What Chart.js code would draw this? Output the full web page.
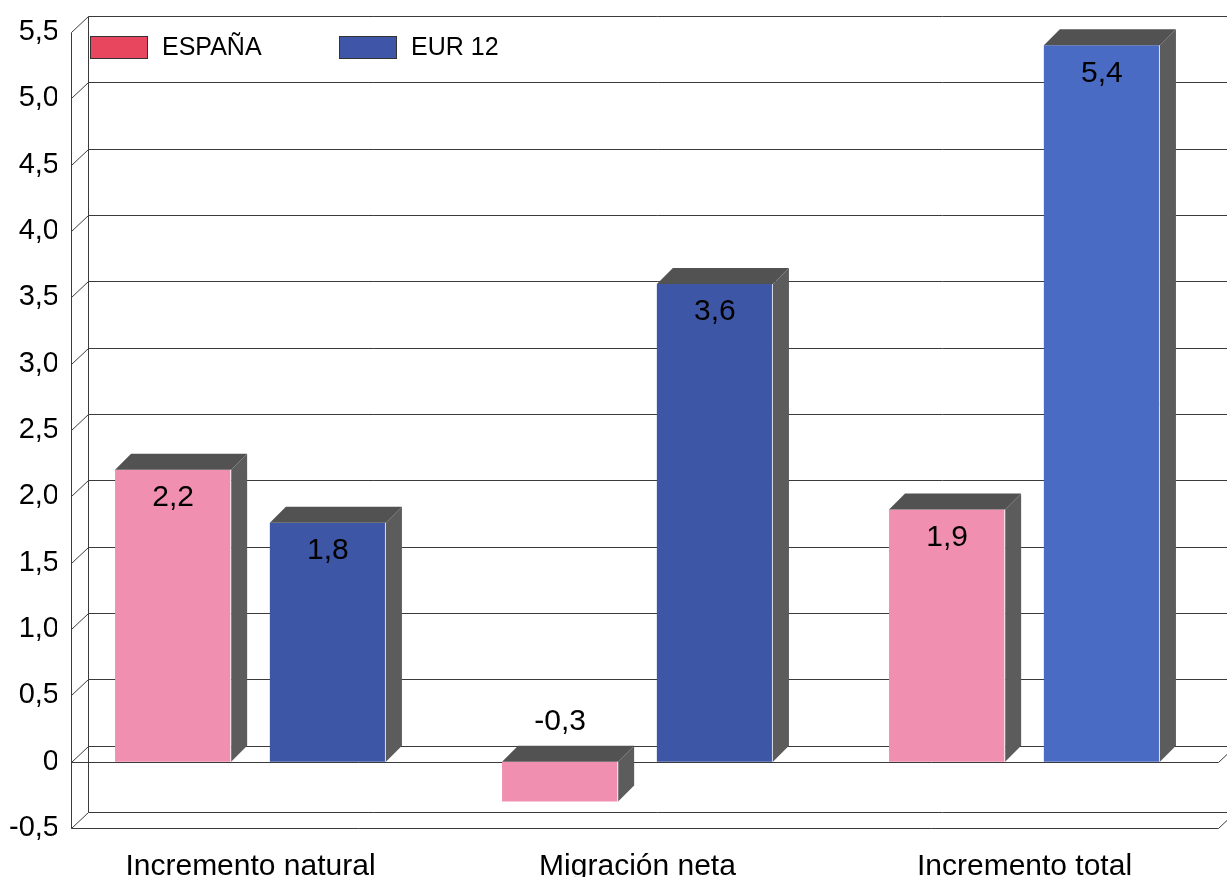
<!DOCTYPE html>
<html>
<head>
<meta charset="utf-8">
<script src="https://cdn.jsdelivr.net/npm/chart.js@4"></script>
<style>
  html, body { margin: 0; padding: 0; background: #fff; }
  #wrap { width: 1227px; height: 877px; }
</style>
</head>
<body>
<div id="wrap"><canvas id="poblacionChart" width="1227" height="877"></canvas></div>
<script>
var categories = ['Incremento natural', 'Migración neta', 'Incremento total'];
var espana = [2.2, -0.3, 1.9];
var eur12 = [1.8, 3.6, 5.4];
var yMin = -0.5, yMax = 5.5, yStep = 0.5;

var DX = 17, DY = -16;      // depth of the walls
var BDX = 16, BDY = -16;    // depth of the bars
var FONT = "'Liberation Sans', Arial, Helvetica, sans-serif";

function fmt(v) {
    if (v === 0) return '0';
    return v.toFixed(1).replace('.', ',');
}

var frame3d = {
    id: 'frame3d',
    beforeDatasetsDraw: function(chart) {
        var ctx = chart.ctx, y = chart.scales.y, area = chart.chartArea;
        var left = area.left + 14 + 0.5, right = area.right + 0.5;
        var W = chart.width;
        ctx.save();
        ctx.strokeStyle = '#3a3a3a';
        ctx.lineWidth = 1;
        ctx.beginPath();
        y.ticks.forEach(function(t) {
            var yf = Math.round(y.getPixelForValue(t.value)) + 0.5;
            ctx.moveTo(left, yf);
            ctx.lineTo(left + DX, yf + DY);
            ctx.lineTo(W, yf + DY);
        });
        var yTop = Math.round(y.getPixelForValue(yMax)) + 0.5;
        var yBot = Math.round(y.getPixelForValue(yMin)) + 0.5;
        var y0 = Math.round(y.getPixelForValue(0)) + 0.5;
        ctx.moveTo(left, yTop); ctx.lineTo(left, yBot);
        ctx.moveTo(left + DX, yTop + DY); ctx.lineTo(left + DX, yBot + DY);
        [y0, yBot].forEach(function(yy) {
            ctx.moveTo(left, yy);
            ctx.lineTo(right, yy);
            ctx.lineTo(right + DX, yy + DY);
        });
        ctx.stroke();
        ctx.restore();
    },
    afterDatasetsDraw: function(chart) {
        var ctx = chart.ctx;
        ctx.save();
        chart.data.datasets.forEach(function(ds, i) {
            var meta = chart.getDatasetMeta(i);
            meta.data.forEach(function(el, j) {
                var p = el.getProps(['x', 'y', 'base', 'width'], true);
                var l = p.x - p.width / 2, r = p.x + p.width / 2;
                var top = Math.min(p.y, p.base), bot = Math.max(p.y, p.base);
                ctx.fillStyle = '#5c5c5c';
                ctx.beginPath();
                ctx.moveTo(r, top);
                ctx.lineTo(r + BDX, top + BDY);
                ctx.lineTo(r + BDX, bot + BDY);
                ctx.lineTo(r, bot);
                ctx.closePath();
                ctx.fill();
                ctx.fillStyle = '#525252';
                ctx.beginPath();
                ctx.moveTo(l, top);
                ctx.lineTo(l + BDX, top + BDY);
                ctx.lineTo(r + BDX, top + BDY);
                ctx.lineTo(r, top);
                ctx.closePath();
                ctx.fill();
                ctx.strokeStyle = 'rgba(255,255,255,0.8)';
                ctx.lineWidth = 1;
                ctx.beginPath();
                ctx.moveTo(r - 0.5, top);
                ctx.lineTo(r - 0.5, bot);
                ctx.stroke();

                var v = ds.data[j];
                ctx.fillStyle = '#000';
                ctx.font = '30px ' + FONT;
                ctx.textAlign = 'center';
                ctx.textBaseline = 'middle';
                var ty = v >= 0 ? top + 28 : top + BDY - 24;
                ctx.fillText(fmt(v), p.x, ty);
            });
        });
        ctx.restore();
    },
    afterDraw: function(chart) {
        var ctx = chart.ctx;
        var xs = [90, 339];
        ctx.save();
        chart.data.datasets.forEach(function(ds, i) {
            var bx = xs[i], by = 36;
            ctx.fillStyle = ds.legendColor;
            ctx.fillRect(bx, by, 58, 23);
            ctx.strokeStyle = '#333';
            ctx.lineWidth = 1;
            ctx.strokeRect(bx + 0.5, by + 0.5, 57, 22);
            ctx.fillStyle = '#000';
            ctx.font = '25px ' + FONT;
            ctx.textAlign = 'left';
            ctx.textBaseline = 'middle';
            ctx.fillText(ds.label, bx + 72, by + 12);
        });
        ctx.restore();
    }
};

var ctx = document.getElementById('poblacionChart').getContext('2d');
var poblacionChart = new Chart(ctx, {
    type: 'bar',
    data: {
        labels: categories,
        datasets: [{
            label: 'ESPAÑA',
            data: espana,
            backgroundColor: '#f08fb0',
            legendColor: '#e8455f',
            categoryPercentage: 0.8,
            barPercentage: 0.75
        }, {
            label: 'EUR 12',
            data: eur12,
            backgroundColor: ['#3e56a6', '#3e56a6', '#4a6bc4'],
            legendColor: '#3f55a8',
            categoryPercentage: 0.8,
            barPercentage: 0.75
        }]
    },
    options: {
        responsive: false,
        animation: false,
        layout: { padding: { left: 0, right: 9, top: 32, bottom: 0 } },
        plugins: {
            legend: { display: false },
            tooltip: { enabled: false }
        },
        scales: {
            x: {
                grid: { display: false, drawTicks: false },
                border: { display: false },
                ticks: {
                    color: '#000',
                    font: { family: FONT, size: 30 },
                    padding: 21,
                    maxRotation: 0
                },
                afterFit: function(s) { s.height = 49; }
            },
            y: {
                min: yMin,
                max: yMax,
                grid: { display: false, drawTicks: false },
                border: { display: false },
                ticks: {
                    stepSize: yStep,
                    color: '#000',
                    font: { family: FONT, size: 29 },
                    padding: -2,
                    callback: function(v) { return fmt(v); }
                },
                afterFit: function(s) { s.width = 57; }
            }
        }
    },
    plugins: [frame3d]
});
</script>
</body>
</html>
